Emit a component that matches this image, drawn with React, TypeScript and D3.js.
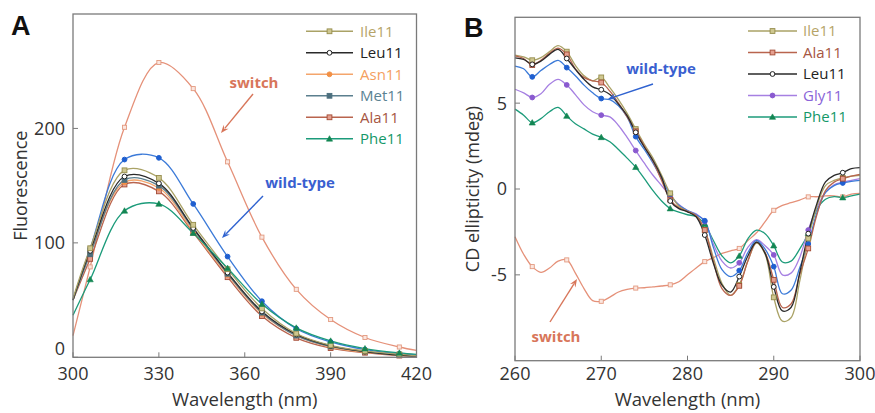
import React from "react";
import * as d3 from "d3";

// ---------- Panel A: fluorescence ----------
const fluorWavelength = [300, 306, 318, 330, 342, 354, 366, 378, 390, 402, 414, 420];
const fluorMarkerWavelength = [306, 318, 330, 342, 354, 366, 378, 390, 402, 414];
const fluorSwitch = [19, 79, 201, 257.6, 234.8, 170.8, 105, 59.4, 33, 17.3, 9, 6];
const fluorWildType = [50, 95, 172.8, 174.3, 134, 88, 49, 25, 13.4, 6.7, 3.2, 2];
const fluorIle11 = [51.5, 95.3, 163.4, 156.8, 115.8, 77, 42.7, 20.8, 10.5, 5.6, 2.6, 1.5];
const fluorLeu11 = [50, 93, 158, 152, 113, 74, 40, 20, 10, 5, 2, 1.2];
const fluorAsn11 = [50, 91, 153, 148, 110, 72, 38, 19, 9, 4.5, 1.8, 1];
const fluorMet11 = [50, 90, 155, 150, 112, 73, 39, 19, 9.5, 5, 2, 1.2];
const fluorAla11 = [50, 86, 151, 145, 109, 70, 36, 17, 8, 4, 1.5, 1];
const fluorPhe11 = [36.8, 68, 128, 134, 108.5, 77.8, 46.5, 25.7, 14.3, 7.6, 3.8, 2.5];
const fluorXTicks = [300, 330, 360, 390, 420];
const fluorYTicks = [0, 100, 200];

// ---------- Panel B: CD ----------
const cdWavelength = [
  260, 261, 262, 263, 264, 265, 266, 267, 268, 269, 270, 271, 272, 273, 274, 275, 276, 277, 278, 279,
  280, 281, 282, 283, 284, 285, 286, 287, 288, 289, 290, 291, 292, 293, 294, 295, 296, 297, 298, 299, 300,
];
const cdMarkerWavelength = [262, 266, 270, 274, 278, 282, 286, 290, 294, 298];
const cdLeu11 = [
  7.64, 7.55, 7.26, 7.45, 7.84, 8.13, 7.6, 6.97, 6.39, 5.95, 5.78, 5.5, 4.94, 4.27, 3.3, 2.43, 1.66, 0.69, -0.7, -1.14,
  -1.33, -1.62, -2.68, -4.32, -5.6, -6.0, -5.1, -3.9, -3.1, -3.75, -5.7, -7.1, -6.9, -4.9, -2.6, -0.85, 0.41, 0.79, 0.95, 1.18, 1.24,
];
const cdIle11 = [
  7.8, 7.7, 7.5, 7.65, 8.0, 8.35, 8.0, 7.2, 6.6, 6.3, 6.5, 5.9, 5.2, 4.4, 3.49, 2.6, 1.8, 0.8, -0.25, -1.0,
  -1.3, -1.55, -2.39, -4.0, -5.5, -6.2, -5.58, -4.2, -3.15, -3.8, -6.31, -7.7, -7.5, -5.4, -2.88, -1.0, 0.2, 0.5, 0.65, 0.75, 0.8,
];
const cdAla11 = [
  7.75, 7.6, 7.22, 7.5, 7.9, 8.2, 7.84, 7.0, 6.5, 6.3, 6.2, 5.7, 5.0, 4.2, 3.36, 2.5, 1.6, 0.5, -0.62, -1.1,
  -1.3, -1.55, -2.39, -4.2, -5.8, -6.2, -5.64, -4.2, -3.1, -3.7, -5.29, -6.9, -6.7, -5.0, -3.46, -1.5, -0.1, 0.4, 0.6, 0.75, 0.85,
];
const cdWildType = [
  7.16, 7.0, 6.53, 6.9, 7.25, 7.49, 7.07, 6.6, 6.05, 5.6, 5.27, 5.2, 4.85, 4.2, 3.05, 2.3, 1.5, 0.6, -0.31, -0.95,
  -1.25, -1.5, -1.85, -3.4, -4.7, -5.1, -4.75, -3.7, -3.0, -3.5, -4.52, -6.1, -5.9, -4.6, -3.2, -1.4, -0.2, 0.2, 0.35, 0.45, 0.5,
];
const cdGly11 = [
  5.81, 5.6, 5.33, 5.55, 6.1, 6.39, 6.06, 5.5, 4.9, 4.5, 4.3, 4.2, 3.7, 3.0, 2.24, 1.5, 0.8, 0.2, -0.4, -0.9,
  -1.25, -1.45, -1.9, -3.2, -4.2, -4.6, -4.3, -3.4, -2.95, -3.3, -3.84, -5.0, -4.9, -4.0, -2.39, -1.1, -0.2, 0.25, 0.4, 0.5, 0.6,
];
const cdPhe11 = [
  4.65, 4.3, 3.86, 4.1, 4.5, 4.75, 4.25, 3.8, 3.5, 3.2, 3.01, 2.75, 2.3, 1.8, 1.27, 0.6, -0.1, -0.7, -1.14, -1.35,
  -1.5, -1.6, -2.05, -3.0, -3.9, -4.3, -3.9, -2.9, -2.4, -2.6, -3.3, -4.25, -4.2, -3.5, -2.59, -1.2, -0.6, -0.45, -0.5, -0.4, -0.3,
];
const cdSwitch = [
  -2.78, -3.8, -4.52, -4.85, -4.6, -4.2, -4.13, -4.9, -5.8, -6.5, -6.54, -6.3, -6.0, -5.85, -5.77, -5.75, -5.7, -5.65, -5.58, -5.4,
  -5.0, -4.6, -4.23, -4.0, -3.75, -3.6, -3.46, -3.0, -2.55, -1.9, -1.24, -0.95, -0.8, -0.65, -0.46, -0.45, -0.4, -0.4, -0.46, -0.3, -0.25,
];
const cdXTicks = [260, 270, 280, 290, 300];
const cdYTicks = [-5, 0, 5];

const legendA = ["Ile11", "Leu11", "Asn11", "Met11", "Ala11", "Phe11"];
const legendB = ["Ile11", "Ala11", "Leu11", "Gly11", "Phe11"];

type Shape = "square" | "circle" | "triangle";
interface Style {
  line: string;
  fill: string;
  stroke: string;
  text: string;
  shape: Shape;
}

const styles: Record<string, Style> = {
  Ile11: { line: "#aaa266", fill: "#cfc790", stroke: "#958d4c", text: "#b6a468", shape: "square" },
  Leu11: { line: "#2a2a2a", fill: "#ffffff", stroke: "#222", text: "#222", shape: "circle" },
  Asn11: { line: "#f4a56c", fill: "#f29045", stroke: "#f29045", text: "#f4a060", shape: "circle" },
  Met11: { line: "#5b7f8e", fill: "#4c6f7e", stroke: "#4c6f7e", text: "#5a8292", shape: "square" },
  Ala11: { line: "#b9644e", fill: "#e5a090", stroke: "#a34a33", text: "#a65642", shape: "square" },
  Phe11: { line: "#1c9b7a", fill: "#138653", stroke: "#138653", text: "#149868", shape: "triangle" },
  Gly11: { line: "#a680e2", fill: "#8a5ad0", stroke: "#8a5ad0", text: "#8a64d8", shape: "circle" },
  wt: { line: "#3b7ad8", fill: "#1f5fd0", stroke: "#1f5fd0", text: "#3a5fd0", shape: "circle" },
  sw: { line: "#e59179", fill: "#fbe6df", stroke: "#e39a80", text: "#d8765a", shape: "square" },
};

function Marker({ shape, x, y, fill, stroke, size = 1 }: { shape: Shape; x: number; y: number; fill: string; stroke: string; size?: number }) {
  if (shape === "square") {
    const h = 2.4 * size;
    return <rect x={x - h} y={y - h} width={2 * h} height={2 * h} fill={fill} stroke={stroke} strokeWidth={0.9} />;
  }
  if (shape === "circle") {
    return <circle cx={x} cy={y} r={2.4 * size} fill={fill} stroke={stroke} strokeWidth={1} />;
  }
  const s = 3.1 * size;
  return <path d={`M${x},${y - s}L${x + s},${y + s * 0.75}L${x - s},${y + s * 0.75}Z`} fill={fill} stroke={stroke} strokeWidth={0.6} />;
}

const FONT = "'Open Sans', 'Noto Sans', sans-serif";

interface Series {
  key: string;
  values: number[];
}

function Panel({
  x,
  y,
  wavelengths,
  markerWl,
  series,
  xTicks,
  yTicks,
  yLabel,
  yLabelX,
  letter,
  letterX,
  letterY,
  legend,
  legendLineX0,
  legendLineX1,
  legendTextX,
  legendY0,
}: {
  x: d3.ScaleLinear<number, number>;
  y: d3.ScaleLinear<number, number>;
  wavelengths: number[];
  markerWl: number[];
  series: Series[];
  xTicks: number[];
  yTicks: number[];
  yLabel: string;
  yLabelX: number;
  letter: string;
  letterX: number;
  letterY: number;
  legend: string[];
  legendLineX0: number;
  legendLineX1: number;
  legendTextX: number;
  legendY0: number;
}) {
  const [x0, x1] = x.range();
  const [yb, yt] = y.range();
  const line = d3
    .line<number>()
    .x((_, i) => x(wavelengths[i]))
    .y((d) => y(d))
    .curve(d3.curveCatmullRom.alpha(0.5));
  const axisColor = "#7a7a7a";
  return (
    <g>
      <text x={letterX} y={letterY} fontFamily="'Liberation Sans', Arial, sans-serif" fontWeight="bold" fontSize={27} fill="#111">
        {letter}
      </text>
      {series.map((s) => (
        <path key={s.key} d={line(s.values) ?? ""} fill="none" stroke={styles[s.key].line} strokeWidth={1.3} />
      ))}
      {series.map((s) =>
        s.values.map((v, i) =>
          markerWl.includes(wavelengths[i]) ? (
            <Marker
              key={s.key + i}
              shape={styles[s.key].shape}
              x={x(wavelengths[i])}
              y={y(v)}
              fill={styles[s.key].fill}
              stroke={styles[s.key].stroke}
              size={s.key === "sw" ? 0.85 : 1}
            />
          ) : null
        )
      )}
      <rect x={x0} y={yt} width={x1 - x0} height={yb - yt} fill="none" stroke={axisColor} strokeWidth={1.3} />
      {xTicks.map((t) => (
        <g key={"xt" + t}>
          <line x1={x(t)} x2={x(t)} y1={yb} y2={yb - 5} stroke={axisColor} strokeWidth={1} />
          <text x={x(t)} y={380} textAnchor="middle" fontFamily={FONT} fontSize={18} fill="#333">
            {t}
          </text>
        </g>
      ))}
      {yTicks.map((t) => (
        <g key={"yt" + t}>
          <line x1={x0} x2={x0 + 5} y1={y(t)} y2={y(t)} stroke={axisColor} strokeWidth={1} />
          <text
            x={x0 - 8}
            y={Math.abs(y(t) - yb) < 1 ? y(t) - 9 : y(t)}
            dy="0.36em"
            textAnchor="end"
            fontFamily={FONT}
            fontSize={18}
            fill="#333"
          >
            {t}
          </text>
        </g>
      ))}
      <text x={(x0 + x1) / 2} y={406} textAnchor="middle" fontFamily={FONT} fontSize={18.5} fill="#333">
        Wavelength (nm)
      </text>
      <text
        transform={`translate(${yLabelX},${(yb + yt) / 2}) rotate(-90)`}
        textAnchor="middle"
        fontFamily={FONT}
        fontSize={18}
        fill="#333"
      >
        {yLabel}
      </text>
      {legend.map((k, i) => {
        const cy = legendY0 + i * 21.5;
        const st = styles[k];
        return (
          <g key={"lg" + k}>
            <line x1={legendLineX0} x2={legendLineX1} y1={cy} y2={cy} stroke={st.line} strokeWidth={1.4} />
            <Marker shape={st.shape} x={(legendLineX0 + legendLineX1) / 2} y={cy} fill={st.fill} stroke={st.stroke} />
            <text x={legendTextX} y={cy} dy="0.36em" fontFamily={FONT} fontSize={15} fill={st.text}>
              {k}
            </text>
          </g>
        );
      })}
    </g>
  );
}

function Arrow({ x1, y1, x2, y2, color }: { x1: number; y1: number; x2: number; y2: number; color: string }) {
  const ang = Math.atan2(y2 - y1, x2 - x1);
  const L = 8;
  const W = 3.2;
  const bx = x2 - L * Math.cos(ang);
  const by = y2 - L * Math.sin(ang);
  const nx = -Math.sin(ang);
  const ny = Math.cos(ang);
  const d = `M${x2},${y2}L${bx + W * nx},${by + W * ny}L${bx + 0.35 * L * Math.cos(ang)},${by + 0.35 * L * Math.sin(ang)}L${bx - W * nx},${by - W * ny}Z`;
  return (
    <g>
      <line x1={x1} y1={y1} x2={bx + 2 * Math.cos(ang)} y2={by + 2 * Math.sin(ang)} stroke={color} strokeWidth={1.4} />
      <path d={d} fill={color} />
    </g>
  );
}

export default function App() {
  const xA = d3.scaleLinear().domain([300, 420]).range([73, 416.5]);
  const yA = d3.scaleLinear().domain([0, 300]).range([357.3, 14]);
  const xB = d3.scaleLinear().domain([260, 300]).range([515, 860]);
  const yB = d3.scaleLinear().domain([-10, 10]).range([360.7, 17.3]);

  const seriesA: Series[] = [
    { key: "sw", values: fluorSwitch },
    { key: "wt", values: fluorWildType },
    { key: "Ala11", values: fluorAla11 },
    { key: "Asn11", values: fluorAsn11 },
    { key: "Met11", values: fluorMet11 },
    { key: "Leu11", values: fluorLeu11 },
    { key: "Ile11", values: fluorIle11 },
    { key: "Phe11", values: fluorPhe11 },
  ];
  const seriesB: Series[] = [
    { key: "sw", values: cdSwitch },
    { key: "Phe11", values: cdPhe11 },
    { key: "Gly11", values: cdGly11 },
    { key: "wt", values: cdWildType },
    { key: "Ile11", values: cdIle11 },
    { key: "Ala11", values: cdAla11 },
    { key: "Leu11", values: cdLeu11 },
  ];

  return (
    <svg width={875} height={413} style={{ position: "absolute", left: 0, top: 0, background: "#fff" }}>
      <rect width={875} height={413} fill="#fff" />
      <Panel
        x={xA}
        y={yA}
        wavelengths={fluorWavelength}
        markerWl={fluorMarkerWavelength}
        series={seriesA}
        xTicks={fluorXTicks}
        yTicks={fluorYTicks}
        yLabel="Fluorescence"
        yLabelX={27}
        letter="A"
        letterX={11}
        letterY={35}
        legend={legendA}
        legendLineX0={306}
        legendLineX1={353}
        legendTextX={360}
        legendY0={31.3}
      />
      <Panel
        x={xB}
        y={yB}
        wavelengths={cdWavelength}
        markerWl={cdMarkerWavelength}
        series={seriesB}
        xTicks={cdXTicks}
        yTicks={cdYTicks}
        yLabel="CD ellipticity (mdeg)"
        yLabelX={479}
        letter="B"
        letterX={464}
        letterY={37}
        legend={legendB}
        legendLineX0={748}
        legendLineX1={797}
        legendTextX={803}
        legendY0={31}
      />
      {/* annotations */}
      <text x={254} y={88} textAnchor="middle" fontFamily={FONT} fontWeight="bold" fontSize={15} fill={styles.sw.text}>
        switch
      </text>
      <Arrow x1={253} y1={94} x2={221} y2={133} color="#d8765a" />
      <text x={300} y={188} textAnchor="middle" fontFamily={FONT} fontWeight="bold" fontSize={15} fill={styles.wt.text}>
        wild-type
      </text>
      <Arrow x1={263} y1={196} x2={222} y2={238} color="#2f62d0" />
      <text x={661} y={74} textAnchor="middle" fontFamily={FONT} fontWeight="bold" fontSize={15} fill={styles.wt.text}>
        wild-type
      </text>
      <Arrow x1={653} y1={84} x2={608} y2={99} color="#2f62d0" />
      <text x={556} y={342} textAnchor="middle" fontFamily={FONT} fontWeight="bold" fontSize={15} fill={styles.sw.text}>
        switch
      </text>
      <Arrow x1={550} y1={322} x2={577} y2={279} color="#d8765a" />
    </svg>
  );
}
